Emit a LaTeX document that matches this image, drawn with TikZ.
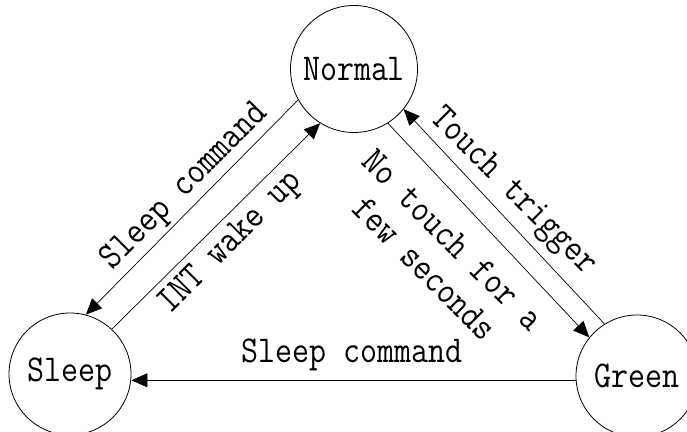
\documentclass[tikz,border=0pt]{standalone}
\usepackage{graphicx}
\usetikzlibrary{arrows.meta}
\newcommand{\diafont}{\fontsize{33}{40}\selectfont\ttfamily}
\newcommand{\vs}[1]{\scalebox{1}[1.15]{#1}}
\begin{document}
\begin{tikzpicture}[x=1pt,y=-1pt,
  state/.style={circle,draw,line width=0.8pt,inner sep=0pt,font=\diafont},
  conn/.style={line width=0.7pt,-{Triangle[length=16pt,width=14pt]}},
  lab/.style={font=\diafont,inner sep=0pt}]
\useasboundingbox (0,0) rectangle (687,431);
\clip (0,0) rectangle (687,431);
\node[state,minimum size=127pt] (normal) at (354,69) {\vs{Normal}};
\node[state,minimum size=122pt] (sleep) at (70,374) {\vs{Sleep}};
\node[state,minimum size=122pt] (green) at (637,376) {\vs{Green}};
\draw[conn] (normal.209) -- (sleep.75);
\draw[conn] (sleep.47.6) -- (normal.238);
\draw[conn] (normal.302) -- (green.141);
\draw[conn] (green.122) -- (normal.321);
\draw[conn] (green.184) -- (green.184 -| sleep.east);
\node[lab,rotate=45] (l1) at (185,187) {\vs{Sleep command}};
\node[lab,rotate=45] (l2) at (231,243) {\vs{INT wake up}};
\node[lab,rotate=-45] (l3) at (513,192) {\vs{Touch trigger}};
\node[lab,rotate=-45,align=center] (l4) at (439,254) {\vs{No touch for a}\\\vs{few seconds}};
\node[lab,anchor=base] (l5) at (352,362) {\vs{Sleep command}};
\end{tikzpicture}
\end{document}
